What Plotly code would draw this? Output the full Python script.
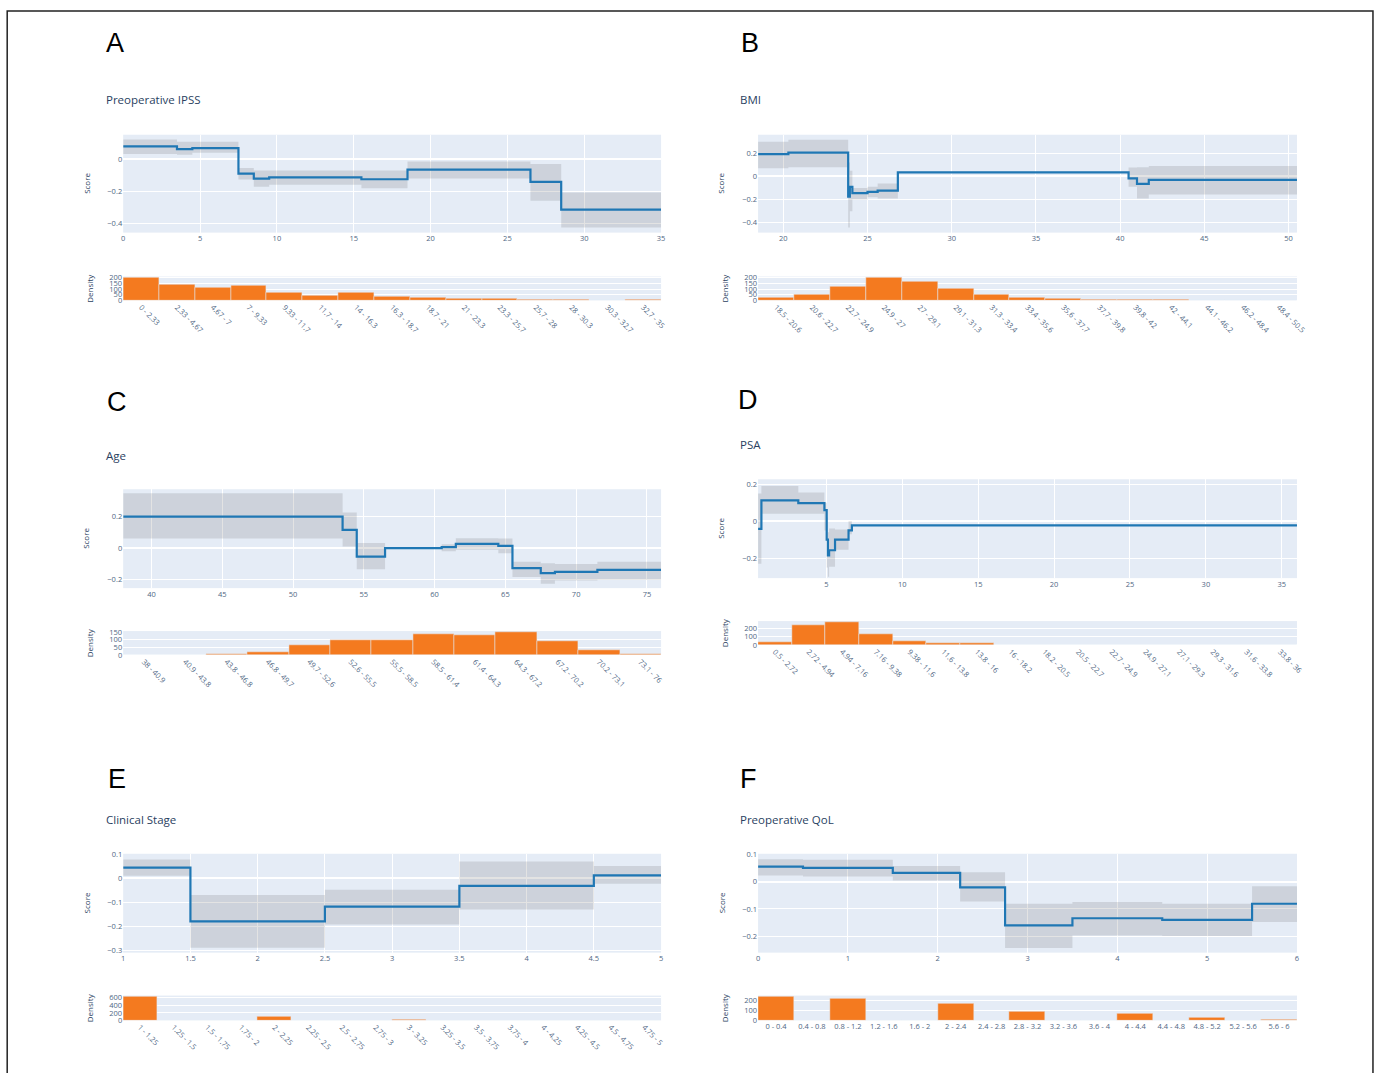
import plotly.graph_objects as go

W, H = 1384, 1073
# empirical compensation of the page-to-photo mapping
SX, OX = 0.9915, 1.8
SY, OY = 0.992, 4.1

# ---------------- Data ----------------
# A: Preoperative IPSS
a_edges = [0, 3.5, 4.5, 7.5, 8.5, 9.5, 15.5, 18.5, 26.5, 28.5, 35]
a_score = [0.08, 0.063, 0.069, -0.089, -0.12, -0.112, -0.124, -0.065, -0.14, -0.313]
a_upper = [0.122, 0.108, 0.108, -0.055, -0.07, -0.07, -0.07, -0.014, -0.03, -0.207]
a_lower = [0.032, 0.028, 0.04, -0.126, -0.17, -0.158, -0.18, -0.12, -0.258, -0.424]
a_bins = ["0 - 2.33", "2.33 - 4.67", "4.67 - 7", "7 - 9.33", "9.33 - 11.7", "11.7 - 14",
          "14 - 16.3", "16.3 - 18.7", "18.7 - 21", "21 - 23.3", "23.3 - 25.7", "25.7 - 28",
          "28 - 30.3", "30.3 - 32.7", "32.7 - 35"]
a_density = [200, 141, 113, 135, 73, 42, 70, 34, 22, 17, 17, 5, 8, 3, 8]

# B: BMI
b_edges = [18.5, 20.3, 23.85, 23.95, 24.1, 25.0, 25.6, 26.8, 40.5, 41.0, 41.7, 50.5]
b_score = [0.192, 0.205, -0.175, -0.09, -0.145, -0.133, -0.122, 0.035, -0.017, -0.065, -0.03]
b_upper = [0.30, 0.317, 0.12, 0.05, -0.10, -0.09, -0.06, 0.04, 0.076, 0.08, 0.09]
b_lower = [0.07, 0.08, -0.44, -0.30, -0.20, -0.18, -0.19, 0.03, -0.09, -0.19, -0.156]
b_bins = ["18.5 - 20.6", "20.6 - 22.7", "22.7 - 24.9", "24.9 - 27", "27 - 29.1", "29.1 - 31.3",
          "31.3 - 33.4", "33.4 - 35.6", "35.6 - 37.7", "37.7 - 39.8", "39.8 - 42", "42 - 44.1",
          "44.1 - 46.2", "46.2 - 48.4", "48.4 - 50.5"]
b_density = [28, 56, 121, 200, 166, 107, 51, 28, 17, 8, 8, 5, 3, 2, 2]

# C: Age
c_edges = [38, 53.5, 54.5, 56.5, 60.5, 61.5, 64.5, 65.5, 67.5, 68.5, 71.5, 76]
c_score = [0.2, 0.116, -0.053, 0.0, 0.006, 0.027, 0.015, -0.126, -0.158, -0.15, -0.137]
c_upper = [0.347, 0.225, 0.032, 0.003, 0.025, 0.063, 0.061, -0.086, -0.095, -0.1, -0.086]
c_lower = [0.061, 0.01, -0.133, -0.003, -0.02, -0.01, -0.032, -0.183, -0.225, -0.204, -0.2]
c_bins = ["38 - 40.9", "40.9 - 43.8", "43.8 - 46.8", "46.8 - 49.7", "49.7 - 52.6", "52.6 - 55.5",
          "55.5 - 58.5", "58.5 - 61.4", "61.4 - 64.3", "64.3 - 67.2", "67.2 - 70.2",
          "70.2 - 73.1", "73.1 - 76"]
c_density = [1, 2, 8, 21, 64, 100, 100, 135, 131, 148, 92, 32, 4]

# D: PSA
d_edges = [0.5, 0.72, 3.15, 4.87, 5.02, 5.1, 5.18, 5.57, 6.46, 6.68, 36]
d_score = [-0.041, 0.113, 0.098, 0.06, -0.1, -0.185, -0.157, -0.1, -0.05, -0.023]
d_upper = [0.15, 0.19, 0.155, 0.1, 0.02, -0.06, -0.04, -0.045, 0.0, -0.02]
d_lower = [-0.23, 0.04, 0.04, -0.05, -0.25, -0.30, -0.246, -0.155, -0.07, -0.026]
d_bins = ["0.5 - 2.72", "2.72 - 4.94", "4.94 - 7.16", "7.16 - 9.38", "9.38 - 11.6", "11.6 - 13.8",
          "13.8 - 16", "16 - 18.2", "18.2 - 20.5", "20.5 - 22.7", "22.7 - 24.9", "24.9 - 27.1",
          "27.1 - 29.3", "29.3 - 31.6", "31.6 - 33.8", "33.8 - 36"]
d_density = [35, 243, 271, 130, 47, 24, 20, 4, 4, 2, 1, 1, 1, 0, 0, 1]

# E: Clinical Stage
e_edges = [1, 1.5, 2.5, 3.5, 4.5, 5]
e_score = [0.044, -0.18, -0.118, -0.032, 0.012]
e_upper = [0.078, -0.07, -0.048, 0.07, 0.051]
e_lower = [0.01, -0.29, -0.193, -0.13, -0.023]
e_bins = ["1 - 1.25", "1.25 - 1.5", "1.5 - 1.75", "1.75 - 2", "2 - 2.25", "2.25 - 2.5",
          "2.5 - 2.75", "2.75 - 3", "3 - 3.25", "3.25 - 3.5", "3.5 - 3.75", "3.75 - 4",
          "4 - 4.25", "4.25 - 4.5", "4.5 - 4.75", "4.75 - 5"]
e_density = [625, 0, 0, 0, 114, 0, 0, 0, 20, 0, 0, 0, 2, 0, 0, 3]

# F: Preoperative QoL
f_edges = [0, 0.5, 1.5, 2.25, 2.75, 3.5, 4.5, 5.5, 6]
f_score = [0.055, 0.05, 0.032, -0.021, -0.16, -0.134, -0.14, -0.081]
f_upper = [0.082, 0.08, 0.057, 0.034, -0.081, -0.075, -0.081, -0.017]
f_lower = [0.022, 0.019, 0.004, -0.073, -0.243, -0.197, -0.199, -0.148]
f_bins = ["0 - 0.4", "0.4 - 0.8", "0.8 - 1.2", "1.2 - 1.6", "1.6 - 2", "2 - 2.4", "2.4 - 2.8",
          "2.8 - 3.2", "3.2 - 3.6", "3.6 - 4", "4 - 4.4", "4.4 - 4.8", "4.8 - 5.2",
          "5.2 - 5.6", "5.6 - 6"]
f_density = [237, 0, 217, 0, 0, 167, 0, 90, 0, 0, 67, 0, 27, 0, 10]

panels = [
    dict(letter="A", title="Preoperative IPSS", edges=a_edges, score=a_score, upper=a_upper,
         lower=a_lower, bins=a_bins, dens=a_density, yrange=[-0.455, 0.152], ydtick=0.2,
         xdtick=5, dticks=[0, 50, 100, 150, 200], angle=45,
         px=(123, 661), main=(134, 232), den=(276, 300), lpos=(115, 42), tpos=(104, 99)),
    dict(letter="B", title="BMI", edges=b_edges, score=b_score, upper=b_upper,
         lower=b_lower, bins=b_bins, dens=b_density, yrange=[-0.485, 0.36], ydtick=0.2,
         xdtick=5, dticks=[0, 50, 100, 150, 200], angle=45,
         px=(758, 1297), main=(134, 232), den=(276, 300), lpos=(750, 42), tpos=(738, 99)),
    dict(letter="C", title="Age", edges=c_edges, score=c_score, upper=c_upper,
         lower=c_lower, bins=c_bins, dens=c_density, yrange=[-0.253, 0.373], ydtick=0.2,
         xdtick=5, dticks=[0, 50, 100, 150], angle=45,
         px=(123, 661), main=(489, 588), den=(631, 655), lpos=(117, 402), tpos=(104, 455)),
    dict(letter="D", title="PSA", edges=d_edges, score=d_score, upper=d_upper,
         lower=d_lower, bins=d_bins, dens=d_density, yrange=[-0.308, 0.227], ydtick=0.2,
         xdtick=5, dticks=[0, 100, 200], angle=45,
         px=(758, 1297), main=(479, 578), den=(621, 645), lpos=(748, 400), tpos=(738, 444)),
    dict(letter="E", title="Clinical Stage", edges=e_edges, score=e_score, upper=e_upper,
         lower=e_lower, bins=e_bins, dens=e_density, yrange=[-0.31, 0.102], ydtick=0.1,
         xdtick=0.5, dticks=[0, 200, 400, 600], angle=45,
         px=(123, 661), main=(854, 953), den=(996, 1021), lpos=(117, 779), tpos=(104, 820)),
    dict(letter="F", title="Preoperative QoL", edges=f_edges, score=f_score, upper=f_upper,
         lower=f_lower, bins=f_bins, dens=f_density, yrange=[-0.26, 0.102], ydtick=0.1,
         xdtick=1, dticks=[0, 100, 200], angle=0,
         px=(758, 1297), main=(854, 953), den=(996, 1021), lpos=(748, 779), tpos=(738, 820)),
]

LINE = "#1f77b4"
BAND = "rgba(68, 68, 68, 0.15)"
BAR = "#f47a1f"
TICKC = "#506784"
TF = 7.5


def fx(p):
    return ((p - OX) / SX) / W


def fy(p):
    return 1 - ((p - OY) / SY) / H


fig = go.Figure()
layout = {}
annotations = []

for i, p in enumerate(panels):
    k1 = 2 * i + 1
    k2 = 2 * i + 2
    xa1 = "x" if k1 == 1 else f"x{k1}"
    ya1 = "y" if k1 == 1 else f"y{k1}"
    xa2, ya2 = f"x{k2}", f"y{k2}"
    xs = p["edges"]
    sc = p["score"] + [p["score"][-1]]
    up = p["upper"] + [p["upper"][-1]]
    lo = p["lower"] + [p["lower"][-1]]
    fig.add_trace(go.Scatter(x=xs, y=up, mode="lines", line=dict(width=0, shape="hv"),
                             showlegend=False, hoverinfo="skip", xaxis=xa1, yaxis=ya1))
    fig.add_trace(go.Scatter(x=xs, y=lo, mode="lines", line=dict(width=0, shape="hv"),
                             fill="tonexty", fillcolor=BAND, showlegend=False,
                             hoverinfo="skip", xaxis=xa1, yaxis=ya1))
    fig.add_trace(go.Scatter(x=xs, y=sc, mode="lines", line=dict(color=LINE, width=2.2, shape="hv"),
                             showlegend=False, xaxis=xa1, yaxis=ya1))
    fig.add_trace(go.Bar(x=p["bins"], y=p["dens"], marker=dict(color=BAR),
                         showlegend=False, xaxis=xa2, yaxis=ya2))

    xdom = [fx(p["px"][0]), fx(p["px"][1])]
    n1 = "" if k1 == 1 else str(k1)
    layout[f"xaxis{n1}"] = dict(domain=xdom, anchor=ya1, range=[xs[0], xs[-1]], dtick=p["xdtick"],
                                tickfont=dict(size=TF, color=TICKC), ticks="", zeroline=False)
    layout[f"yaxis{n1}"] = dict(domain=[fy(p["main"][1]), fy(p["main"][0])], anchor=xa1,
                                range=p["yrange"], dtick=p["ydtick"],
                                tickfont=dict(size=TF, color=TICKC), ticks="")
    layout[f"xaxis{k2}"] = dict(domain=xdom, anchor=ya2, type="category", showgrid=False,
                                tickangle=p["angle"], tickfont=dict(size=TF, color=TICKC), ticks="")
    layout[f"yaxis{k2}"] = dict(domain=[fy(p["den"][1]), fy(p["den"][0])], anchor=xa2,
                                tickvals=p["dticks"], tickfont=dict(size=TF, color=TICKC), ticks="")

    annotations.append(dict(text=p["letter"], x=fx(p["lpos"][0]), y=fy(p["lpos"][1]),
                            xref="paper", yref="paper", xanchor="center", yanchor="middle",
                            showarrow=False,
                            font=dict(family="Liberation Sans, Arial", size=27, color="black")))
    annotations.append(dict(text=p["title"], x=fx(p["tpos"][0]), y=fy(p["tpos"][1]),
                            xref="paper", yref="paper", xanchor="left", yanchor="middle",
                            showarrow=False, font=dict(size=11.5, color="#2a3f5f")))
    mid_main = (p["main"][0] + p["main"][1]) / 2
    mid_den = (p["den"][0] + p["den"][1]) / 2
    annotations.append(dict(text="Score", x=fx(p["px"][0] - 37), y=fy(mid_main),
                            xref="paper", yref="paper", xanchor="center", yanchor="middle",
                            textangle=-90, showarrow=False, font=dict(size=8, color="#2a3f5f")))
    annotations.append(dict(text="Density", x=fx(p["px"][0] - 34), y=fy(mid_den),
                            xref="paper", yref="paper", xanchor="center", yanchor="middle",
                            textangle=-90, showarrow=False, font=dict(size=8, color="#2a3f5f")))

fig.update_layout(**layout)
fig.update_layout(
    width=W, height=H, template="plotly",
    margin=dict(l=0, r=0, t=0, b=0, pad=0),
    paper_bgcolor="white", bargap=0,
    font=dict(family="Open Sans"),
    annotations=annotations,
    shapes=[dict(type="rect", xref="paper", yref="paper", x0=fx(7), x1=fx(1373),
                 y0=fy(1100), y1=fy(10), line=dict(color="#222", width=1.5))],
)

fig.write_html("out.html")
